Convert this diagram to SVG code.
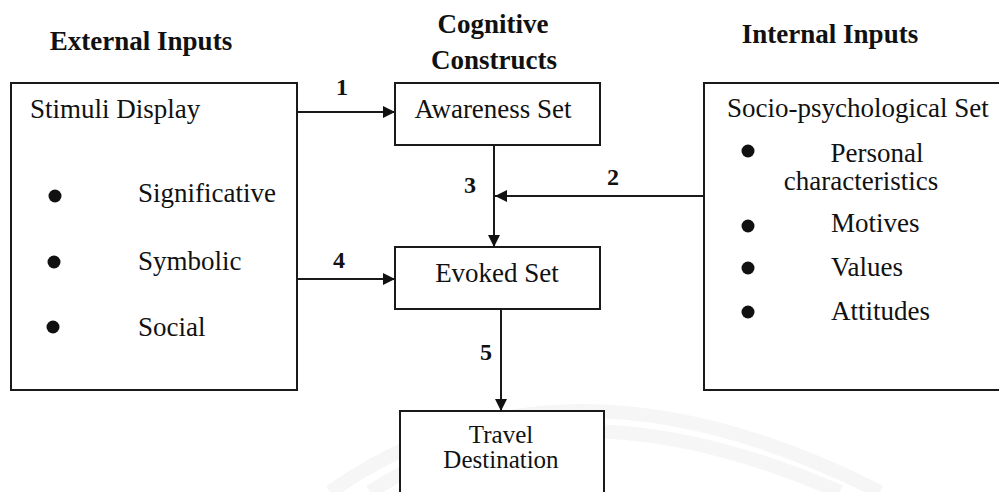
<svg xmlns="http://www.w3.org/2000/svg" width="999" height="492" viewBox="0 0 999 492">
  <defs>
    <style>
      text { font-family: "Liberation Serif", "Times New Roman", serif; fill: #111; }
      .head { font-size: 27px; font-weight: bold; text-anchor: middle; }
      .body { font-size: 27px; }
      .tight { font-size: 25px; }
      .mid { text-anchor: middle; }
      .num { font-size: 24px; font-weight: bold; text-anchor: middle; }
      .box { fill: #fff; stroke: #1a1a1a; stroke-width: 2; }
      .wire { fill: none; stroke: #1a1a1a; stroke-width: 2; }
      .dot { fill: #111; }
    </style>
    <marker id="arrow" viewBox="0 0 12 12" refX="12" refY="6" markerWidth="12" markerHeight="12" markerUnits="userSpaceOnUse" orient="auto">
      <path d="M0,0 L12,6 L0,12 Z" fill="#111"/>
    </marker>
  </defs>

  <rect width="999" height="492" fill="#fff"/>

  <!-- faint background arcs -->
  <g fill="none" stroke="#f6f6f6" stroke-width="14">
    <path d="M330,492 Q560,330 880,492"/>
    <path d="M370,492 Q560,370 840,492"/>
  </g>

  <!-- column headings -->
  <g id="headings">
    <text class="head" x="141" y="50">External Inputs</text>
    <text class="head" x="493" y="33">Cognitive</text>
    <text class="head" x="494" y="69">Constructs</text>
    <text class="head" x="830" y="43">Internal Inputs</text>
  </g>

  <!-- external inputs -->
  <g id="stimuli">
    <rect class="box" x="11" y="83" width="286" height="307"/>
    <text class="body" x="30" y="118">Stimuli Display</text>
    <circle class="dot" cx="55" cy="196" r="6.5"/>
    <text class="body" x="138" y="202">Significative</text>
    <circle class="dot" cx="54" cy="262" r="6.5"/>
    <text class="body" x="138" y="270">Symbolic</text>
    <circle class="dot" cx="53" cy="327" r="6.5"/>
    <text class="body" x="138" y="336">Social</text>
  </g>

  <!-- cognitive constructs -->
  <g id="awareness">
    <rect class="box" x="395" y="83" width="205" height="62"/>
    <text class="body mid" x="493" y="118">Awareness Set</text>
  </g>
  <g id="evoked">
    <rect class="box" x="395" y="247" width="205" height="62"/>
    <text class="body mid" x="497" y="282">Evoked Set</text>
  </g>
  <g id="destination">
    <rect class="box" x="400" y="411" width="204" height="95"/>
    <text class="body tight mid" x="501" y="443">Travel</text>
    <text class="body tight mid" x="501" y="468">Destination</text>
  </g>

  <!-- internal inputs -->
  <g id="socio">
    <rect class="box" x="704" y="83" width="310" height="307"/>
    <text class="body" x="727" y="117">Socio-psychological Set</text>
    <circle class="dot" cx="748" cy="151" r="6.5"/>
    <text class="body mid" x="877" y="162">Personal</text>
    <text class="body mid" x="861" y="190">characteristics</text>
    <circle class="dot" cx="748" cy="226" r="6.5"/>
    <text class="body" x="831" y="232">Motives</text>
    <circle class="dot" cx="748" cy="268" r="6.5"/>
    <text class="body" x="831" y="276">Values</text>
    <circle class="dot" cx="748" cy="312" r="6.5"/>
    <text class="body" x="831" y="320">Attitudes</text>
  </g>

  <!-- connectors -->
  <g id="connectors">
    <line class="wire" x1="297" y1="112" x2="395" y2="112" marker-end="url(#arrow)"/>
    <line class="wire" x1="704" y1="196" x2="495" y2="196" marker-end="url(#arrow)"/>
    <line class="wire" x1="494" y1="145" x2="494" y2="247" marker-end="url(#arrow)"/>
    <line class="wire" x1="297" y1="279" x2="395" y2="279" marker-end="url(#arrow)"/>
    <line class="wire" x1="501" y1="309" x2="501" y2="411" marker-end="url(#arrow)"/>
    <text class="num" x="342" y="95">1</text>
    <text class="num" x="613" y="185">2</text>
    <text class="num" x="470" y="193">3</text>
    <text class="num" x="339" y="268">4</text>
    <text class="num" x="486" y="360">5</text>
  </g>
</svg>
